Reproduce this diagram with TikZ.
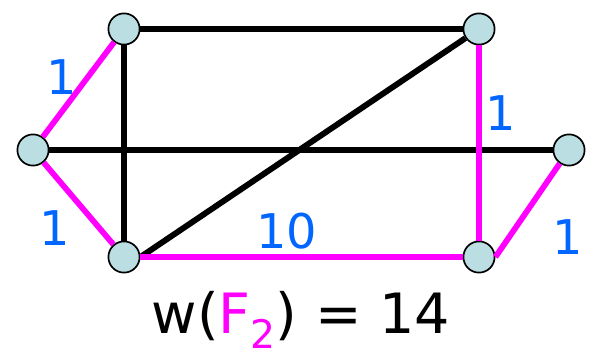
\documentclass[tikz,border=0pt]{standalone}
\usepackage{fontspec}
\setmainfont{DejaVu Sans}
\definecolor{vfill}{RGB}{187,222,226}
\definecolor{fmag}{RGB}{255,0,255}
\definecolor{wblue}{RGB}{0,102,255}
\usetikzlibrary{positioning}

\begin{document}
\begin{tikzpicture}[x=0.025cm, y=-0.025cm,
    vertex/.style={circle, draw=black, line width=1.2pt, fill=vfill, minimum size=0.78cm, inner sep=0pt},
    plain/.style={draw=black, line width=4.2pt},
    forest/.style={draw=fmag, line width=4.1pt},
    weight/.style={text=wblue, font=\fontsize{34}{38}\selectfont, inner sep=0pt}]
  \useasboundingbox (0,0) rectangle (596,361);

  % vertices
  \node[vertex] (a) at (124,29) {};
  \node[vertex] (b) at (479,29) {};
  \node[vertex] (c) at (33,150) {};
  \node[vertex] (d) at (569,150) {};
  \node[vertex] (e) at (124,257) {};
  \node[vertex] (f) at (479,257) {};

  % other edges
  \draw[plain] (a) -- (b);
  \draw[plain] (a) -- (e);
  \draw[plain] (c) -- (d);
  \draw[plain] (e.east) -- (b);

  % edges of F_2
  \draw[forest] (a) -- (c);
  \draw[forest] (c) -- (e);
  \draw[forest] (e) -- (f);
  \draw[forest] (b) -- (f);
  \draw[forest] (f.east) -- (d);

  % weights
  \node[weight] (w1) at (62,77) {1};
  \node[weight] (w2) at (55,228) {1};
  \node[weight] (w3) at (287,231) {10};
  \node[weight] (w4) at (501,113) {1};
  \node[weight] (w5) at (568,237) {1};

  \node[font=\fontsize{39.5}{45}\selectfont, inner sep=0pt] (total) at (301,320)
    {w(\textcolor{fmag}{F\raisebox{-0.28em}{\fontsize{28}{28}\selectfont 2}}) = 14};
\end{tikzpicture}
\end{document}
